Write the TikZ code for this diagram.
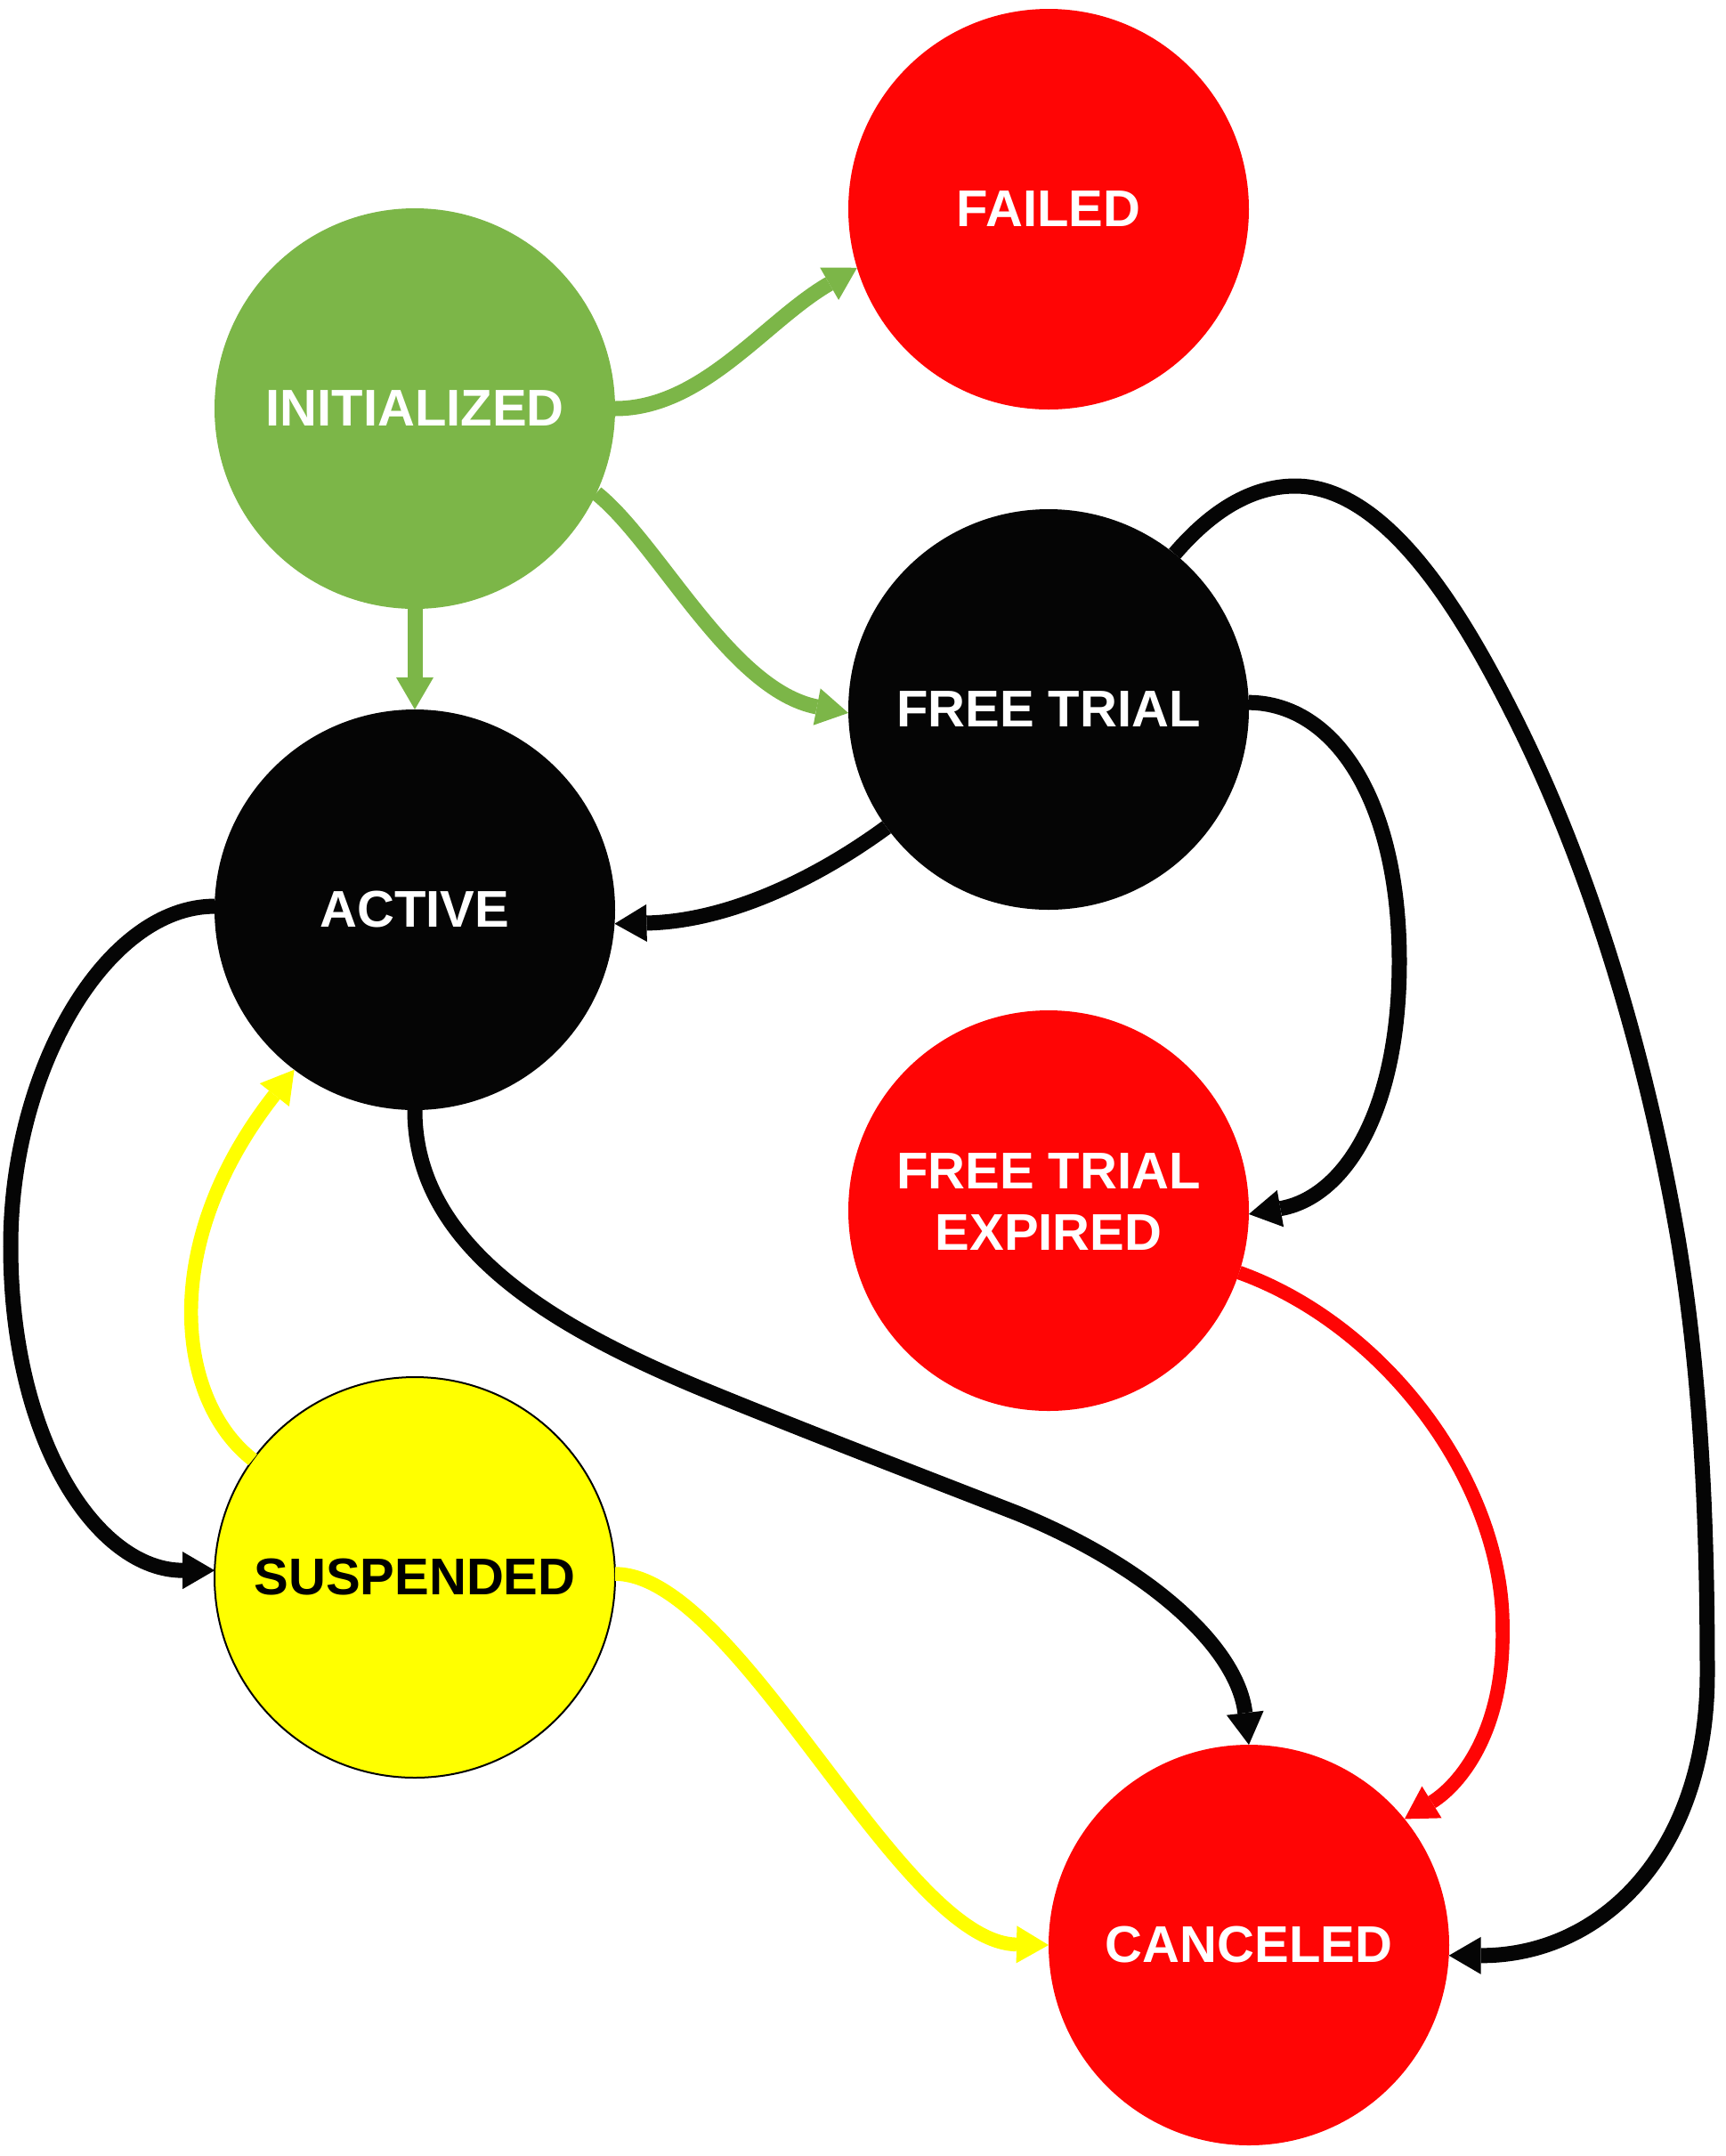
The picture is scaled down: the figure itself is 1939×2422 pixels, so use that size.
\documentclass[tikz,border=0pt]{standalone}
\usepackage{fontspec}
\setmainfont{Liberation Sans}
\usetikzlibrary{arrows.meta}
\definecolor{cgreen}{RGB}{124,182,72}
\definecolor{cred}{RGB}{255,5,5}
\definecolor{cblack}{RGB}{5,5,5}
\definecolor{cyellow}{RGB}{255,255,0}
\begin{document}
\begin{tikzpicture}[x=0.5pt,y=-0.5pt,
  state/.style={circle, minimum size=225pt, inner sep=0pt, outer sep=0pt,
    font=\bfseries\fontsize{29pt}{34.8pt}\selectfont, text=white, align=center},
  edge/.style={line width=8.5pt, -{Triangle[length=18pt,width=21pt,line width=0pt]}},
  thinedge/.style={edge, line width=7.8pt}]
\useasboundingbox (0,0) rectangle (1939,2422);
\node[state, fill=cgreen] (init) at (466,459) {INITIALIZED};
\node[state, fill=cred] (failed) at (1178,235) {FAILED};
\node[state, fill=cblack] (ft) at (1178,797) {FREE TRIAL};
\node[state, fill=cblack] (active) at (466,1022) {ACTIVE};
\node[state, fill=cred, text depth=10pt] (fte) at (1178,1360) {FREE TRIAL\\EXPIRED};
\node[state, fill=cyellow, draw=black, line width=1pt, text=black] (susp) at (466,1772) {SUSPENDED};
\node[state, fill=cred] (canc) at (1403,2185) {CANCELED};
% green edges
\draw[edge, cgreen] (init.east) .. controls (790,459) and (860,360) .. (failed.197);
\draw[edge, cgreen] (init.-25) .. controls (740,610) and (820,775) .. (ft.181);
\draw[edge, cgreen] (init.south) -- (active.north);
% black edges
\draw[edge, cblack] (ft.216) .. controls (920,985) and (820,1035) .. (active.-4);
\draw[edge, cblack] (ft.2) .. controls (1500,790) and (1572,900) .. (1572,1080)
  .. controls (1572,1250) and (1510,1345) .. (fte.-1);
\draw[edge, cblack] (ft.51) .. controls (1360,575) and (1405,546) .. (1455,546)
  .. controls (1560,546) and (1646,696) .. (1700,803)
  .. controls (1790,981) and (1851,1194) .. (1885,1391)
  .. controls (1910,1540) and (1918,1700) .. (1918,1880)
  .. controls (1918,2080) and (1800,2197) .. (canc.-3);
\draw[edge, cblack] (active.179) .. controls (120,1018) and (12,1200) .. (12,1400)
  .. controls (12,1620) and (110,1764) .. (susp.178);
\draw[edge, cblack] (active.south) .. controls (466,1400) and (620,1490) .. (788,1560)
  .. controls (900,1606) and (1030,1656) .. (1143,1700)
  .. controls (1290,1760) and (1390,1850) .. (canc.90);
% yellow edges
\draw[thinedge, cyellow] (susp.144) .. controls (200,1575) and (175,1400) .. (active.233);
\draw[thinedge, cyellow] (susp.1) .. controls (830,1768) and (1010,2182) .. (canc.west);
% red edge
\draw[thinedge, cred] (fte.-18) .. controls (1560,1490) and (1690,1670) .. (1688,1830)
  .. controls (1690,1945) and (1640,2005) .. (canc.39);
\end{tikzpicture}
\end{document}
